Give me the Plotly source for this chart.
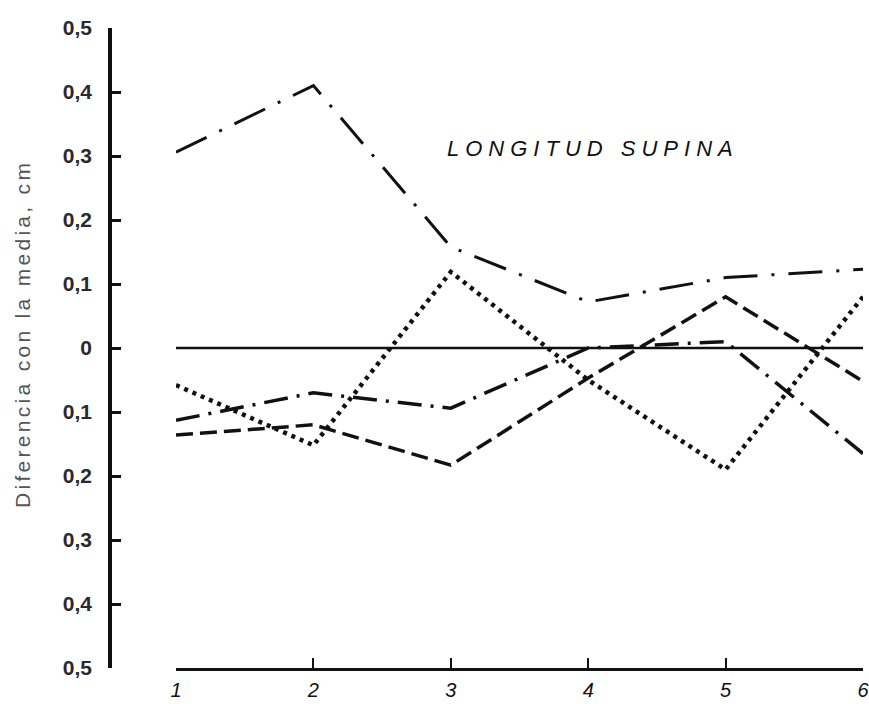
import plotly.graph_objects as go

# Data
x_groups = [1, 2, 3, 4, 5, 6]
x_labels = ["1", "2", "3", "4", "5", "6"]
series_a = [0.306, 0.41, 0.158, 0.072, 0.11, 0.123]      # long dash-dot (top)
series_b = [-0.058, -0.152, 0.119, -0.05, -0.19, 0.08]   # dotted
series_c = [-0.113, -0.07, -0.094, 0.0, 0.01, -0.165]    # dash-dot
series_d = [-0.136, -0.12, -0.183, -0.047, 0.08, -0.052] # long dash
reference = [0, 0, 0, 0, 0, 0]                            # mean line
y_tickvals = [0.5, 0.4, 0.3, 0.2, 0.1, 0, -0.1, -0.2, -0.3, -0.4, -0.5]
y_ticktext = ["0,5", "0,4", "0,3", "0,2", "0,1", "0", "0,1", "0,2", "0,3", "0,4", "0,5"]

INK = "#111"
fig = go.Figure()
fig.add_trace(go.Scatter(x=x_groups, y=reference, mode="lines",
                         line=dict(color=INK, width=2.5), showlegend=False))
fig.add_trace(go.Scatter(x=x_groups, y=series_a, mode="lines",
                         line=dict(color=INK, width=3, dash="34px,14px,3px,14px"), showlegend=False))
fig.add_trace(go.Scatter(x=x_groups, y=series_b, mode="lines",
                         line=dict(color=INK, width=4.5, dash="4px,5px"), showlegend=False))
fig.add_trace(go.Scatter(x=x_groups, y=series_c, mode="lines",
                         line=dict(color=INK, width=3.5, dash="24px,9px,3px,9px"), showlegend=False))
fig.add_trace(go.Scatter(x=x_groups, y=series_d, mode="lines",
                         line=dict(color=INK, width=3.5, dash="17px,7px"), showlegend=False))

W, H = 869, 704
ml, mr, mt, mb = 110, 6, 28, 36
pw = W - ml - mr
ph = H - mt - mb
x0 = (176 - ml) / pw

fig.add_annotation(text='<span style="letter-spacing:6px">LONGITUD SUPINA</span>',
                   x=(593 - ml) / pw, y=0.8125, xref="paper", yref="paper",
                   xanchor="center", yanchor="middle",
                   showarrow=False,
                   font=dict(family="Liberation Sans, Arial", size=22, color=INK, style="italic"))

# y-axis title placed as rotated text
fig.add_annotation(text='<span style="letter-spacing:3.3px">Diferencia con la media, cm</span>',
                   x=(22 - ml) / pw, y=(H - mb - 334) / ph, xref="paper", yref="paper",
                   xanchor="center", yanchor="middle", textangle=-90,
                   showarrow=False,
                   font=dict(family="Liberation Sans, Arial", size=21, color="#555"))

fig.update_layout(
    width=W, height=H,
    margin=dict(l=ml, r=mr, t=mt, b=mb, autoexpand=False),
    paper_bgcolor="white", plot_bgcolor="white",
    xaxis=dict(domain=[x0, 1], range=[1, 6], tickvals=x_groups, ticktext=x_labels,
               automargin=False, ticklabeloverflow="allow",
               showline=True, linecolor=INK, linewidth=3, ticks="inside", ticklen=10,
               tickwidth=2, tickcolor=INK, showgrid=False, zeroline=False,
               ticklabelstandoff=2,
               tickfont=dict(family="Liberation Sans, Arial", size=20, color=INK, style="italic")),
    yaxis=dict(range=[-0.5, 0.5], anchor="free", position=0,
               automargin=False, ticklabeloverflow="allow",
               tickvals=y_tickvals, ticktext=y_ticktext,
               showline=True, linecolor=INK, linewidth=3.5, ticks="inside", ticklen=9,
               tickwidth=2.5, tickcolor=INK, showgrid=False, zeroline=False,
               ticklabelstandoff=12,
               tickfont=dict(family="Liberation Sans, Arial", size=21, color="#2a2a2a", weight="bold")),
)

fig.write_html("out.html")
